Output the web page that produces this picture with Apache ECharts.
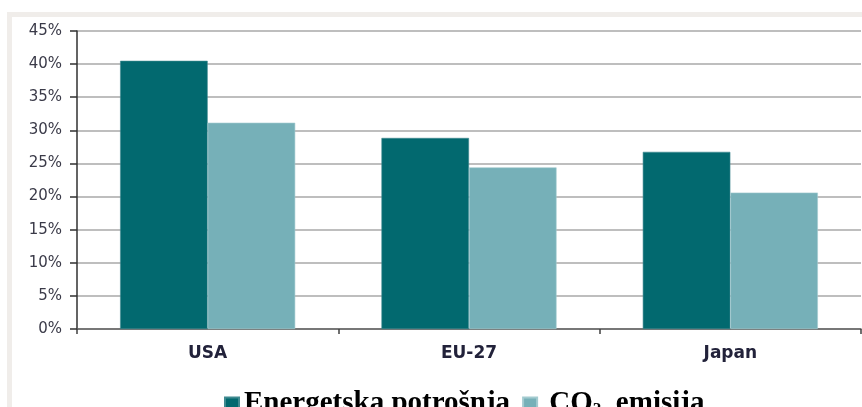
<!DOCTYPE html>
<html>
<head>
<meta charset="utf-8">
<script src="https://cdn.jsdelivr.net/npm/echarts@6/dist/echarts.min.js"></script>
<style>
  html, body { margin: 0; padding: 0; background: #ffffff; }
  #chart { width: 862px; height: 407px; }
</style>
</head>
<body>
<div id="chart"></div>
<script>
// Regions compared
const categories = ['USA', 'EU-27', 'Japan'];
// Share values in percent
const energyUse = [40.5, 28.85, 26.75];
const co2Emission = [31.15, 24.4, 20.6];
// Value axis ticks
const yTicks = { min: 0, max: 45, interval: 5 };
const seriesNames = ['Energetska potrošnja', 'CO₂ emisija'];

const chart = echarts.init(document.getElementById('chart'), null, { renderer: 'canvas' });

chart.setOption({
  animation: false,
  backgroundColor: '#ffffff',
  graphic: [
    { type: 'rect', z: -10, silent: true,
      shape: { x: 7, y: 12, width: 855, height: 395 },
      style: { fill: '#f0edea' } },
    { type: 'rect', z: -9, silent: true,
      shape: { x: 12, y: 17, width: 850, height: 390 },
      style: { fill: '#ffffff' } }
  ],
  grid: { left: 77, right: 1, top: 31, bottom: 78, containLabel: false },
  legend: {
    data: seriesNames,
    left: 219,
    top: 384,
    icon: 'rect',
    itemWidth: 14,
    itemHeight: 12,
    itemGap: 12,
    formatter: function (name) {
      if (name === seriesNames[1]) return '{t| CO}{s|2}{t|  emisija}';
      return '{t|' + name + '}';
    },
    textStyle: {
      rich: {
        t: { fontFamily: 'Liberation Serif', fontWeight: 'bold', fontSize: 29, color: '#000000' },
        s: { fontFamily: 'Liberation Serif', fontWeight: 'bold', fontSize: 17, color: '#000000', padding: [12, 0, 0, 0] }
      }
    }
  },
  xAxis: {
    type: 'category',
    data: categories,
    axisLine: { show: true, lineStyle: { color: '#606060', width: 1.5 } },
    axisTick: { show: true, length: 5, lineStyle: { color: '#404040', width: 1.5 } },
    axisLabel: {
      margin: 16,
      fontFamily: 'DejaVu Sans',
      fontWeight: 'bold',
      fontSize: 17,
      color: '#22223a'
    }
  },
  yAxis: {
    type: 'value',
    min: yTicks.min,
    max: yTicks.max,
    interval: yTicks.interval,
    axisLine: { show: true, lineStyle: { color: '#303030', width: 1.5 } },
    axisTick: { show: true, length: 7, lineStyle: { color: '#303030', width: 1.5 } },
    axisLabel: {
      margin: 15,
      formatter: '{value}%',
      fontFamily: 'DejaVu Sans',
      fontSize: 15,
      color: '#3a3a48'
    },
    splitLine: { show: true, lineStyle: { color: '#a8a8a8', width: 1.5 } }
  },
  series: [
    {
      name: seriesNames[0],
      type: 'bar',
      data: energyUse,
      barGap: '0%',
      barCategoryGap: '33%',
      itemStyle: { color: '#02696f', borderColor: '#3f8a90', borderWidth: 0.6 }
    },
    {
      name: seriesNames[1],
      type: 'bar',
      data: co2Emission,
      itemStyle: { color: '#76b0b8', borderColor: '#a3cbd0', borderWidth: 0.6 }
    }
  ]
});
</script>
</body>
</html>
